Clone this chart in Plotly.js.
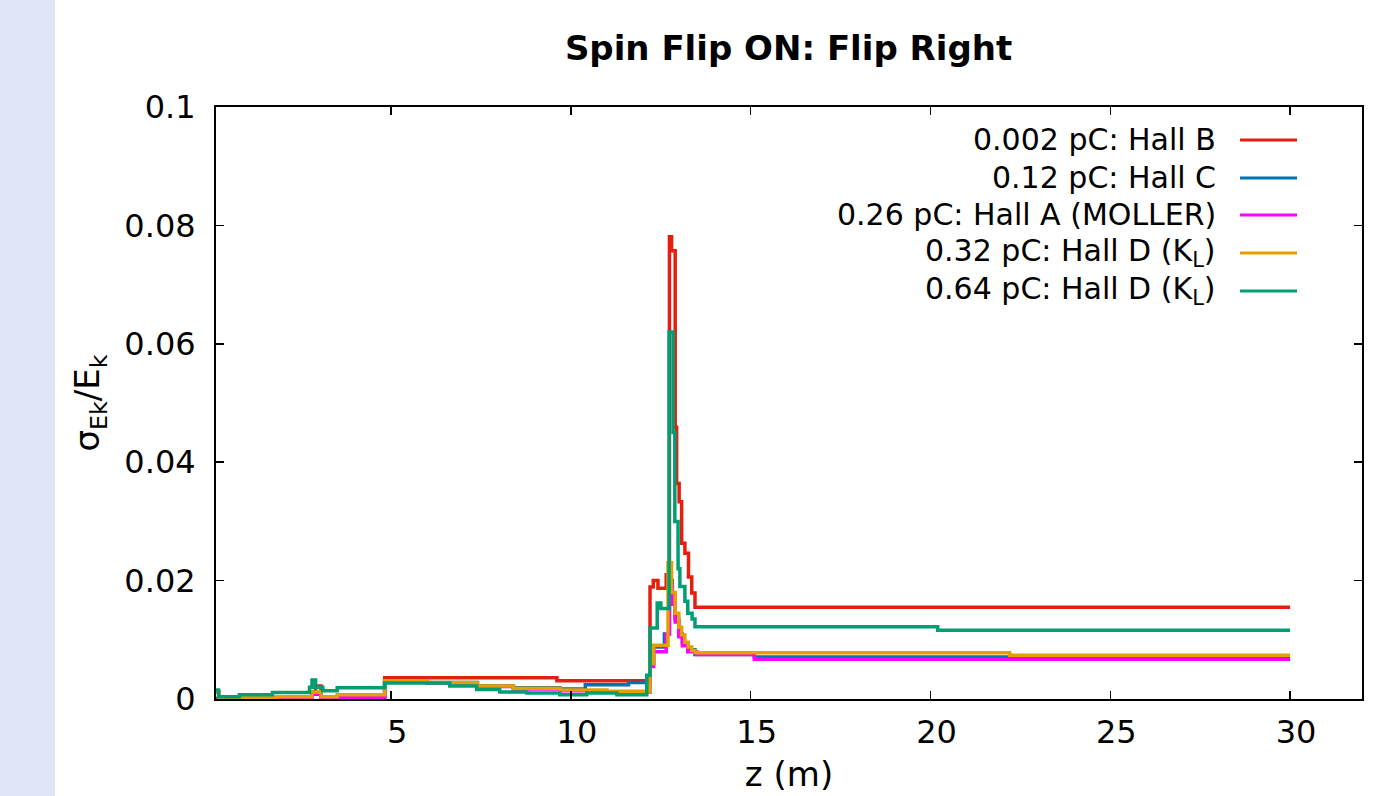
<!DOCTYPE html>
<html>
<head>
<meta charset="utf-8">
<script src="https://cdn.plot.ly/plotly-3.0.1.min.js"></script>
<style>
  html, body { margin: 0; padding: 0; }
  body { width: 1375px; height: 796px; background: linear-gradient(to right, #e0e6f5 0px, #e0e6f5 55px, #ffffff 55px); overflow: hidden; }
  #chart { width: 1375px; height: 796px; }
</style>
</head>
<body>
<div id="chart"></div>
<script>
// ---- data (z in m, sigma_Ek/E_k) ----
const seriesNames = [
  "0.002 pC: Hall B",
  "0.12 pC: Hall C",
  "0.26 pC: Hall A (MOLLER)",
  "0.32 pC: Hall D (K<sub>L</sub>)",
  "0.64 pC: Hall D (K<sub>L</sub>)"
];
const seriesColors = ["#e51e10", "#0072b2", "#ff00ff", "#e69f00", "#009e73"];

const zHallB = [0.13, 2.80, 2.90, 3.05, 4.82, 9.61, 12.20, 12.29, 12.42, 12.65, 12.74, 12.80, 12.90, 12.94, 13.01, 13.08, 13.17, 13.27, 13.36, 13.45, 30.0];
const sHallB = [0.0001, 0.0012, 0.0022, 0.0001, 0.0036, 0.0031, 0.0189, 0.0200, 0.0187, 0.0210, 0.0781, 0.0757, 0.0459, 0.0364, 0.0333, 0.0263, 0.0246, 0.0206, 0.0179, 0.0155, 0.0155];

const zHallC = [0.13, 0.22, 1.00, 2.00, 2.80, 3.05, 4.82, 6.00, 7.40, 8.40, 9.70, 10.40, 11.60, 12.20, 12.30, 12.60, 12.74, 12.82, 12.90, 13.00, 13.10, 13.25, 13.45, 15.10, 30.0];
const sHallC = [0.0012, 0.0002, 0.0002, 0.0004, 0.0008, 0.0003, 0.0031, 0.0028, 0.0022, 0.0019, 0.0017, 0.0024, 0.0028, 0.0060, 0.0088, 0.0110, 0.0200, 0.0175, 0.0135, 0.0110, 0.0095, 0.0083, 0.0075, 0.0071, 0.0071];

const zHallA = [0.13, 0.22, 1.80, 2.80, 3.05, 4.82, 6.00, 7.40, 8.40, 9.70, 11.00, 12.20, 12.30, 12.65, 12.74, 12.82, 12.90, 13.00, 13.10, 13.25, 13.50, 15.10, 30.0];
const sHallA = [0.0012, 0.0001, 0.0001, 0.0009, 0.0002, 0.0030, 0.0027, 0.0021, 0.0017, 0.0014, 0.0012, 0.0055, 0.0080, 0.0110, 0.0190, 0.0160, 0.0130, 0.0105, 0.0090, 0.0080, 0.0075, 0.0067, 0.0067];

const zHallD1 = [0.13, 0.22, 1.80, 2.80, 3.05, 3.50, 4.82, 6.00, 7.40, 8.40, 9.70, 11.00, 12.20, 12.30, 12.45, 12.70, 12.80, 12.90, 13.00, 13.08, 13.17, 13.26, 13.36, 13.45, 13.50, 22.20, 30.0];
const sHallD1 = [0.0012, 0.0002, 0.0004, 0.0012, 0.0004, 0.0007, 0.0031, 0.0028, 0.0022, 0.0018, 0.0015, 0.0013, 0.0060, 0.0091, 0.0091, 0.0230, 0.0180, 0.0145, 0.0121, 0.0108, 0.0096, 0.0088, 0.0082, 0.0079, 0.0078, 0.0074, 0.0074];

const zHallD2 = [0.13, 0.20, 0.78, 1.70, 2.73, 2.80, 2.90, 3.10, 3.50, 4.82, 6.63, 7.38, 8.02, 8.77, 9.69, 10.44, 11.28, 12.11, 12.20, 12.40, 12.50, 12.73, 12.84, 12.89, 12.98, 13.03, 13.17, 13.25, 13.37, 13.45, 20.20, 30.0];
const sHallD2 = [0.0015, 0.0004, 0.0007, 0.0011, 0.0020, 0.0032, 0.0020, 0.0014, 0.0019, 0.0027, 0.0022, 0.0016, 0.0012, 0.0010, 0.0007, 0.0010, 0.0007, 0.0040, 0.0120, 0.0162, 0.0153, 0.0620, 0.0450, 0.0300, 0.0220, 0.0190, 0.0165, 0.0145, 0.0135, 0.0122, 0.0116, 0.0116];

const xTickVals = [5, 10, 15, 20, 25, 30];
const yTickVals = [0, 0.02, 0.04, 0.06, 0.08, 0.1];
const yTickText = ["0", "0.02", "0.04", "0.06", "0.08", "0.1"];

// ---- build ----
const zs = [zHallB, zHallC, zHallA, zHallD1, zHallD2];
const ss = [sHallB, sHallC, sHallA, sHallD1, sHallD2];
const FONT = '"DejaVu Sans", Verdana, sans-serif';

const traces = zs.map((z, i) => ({
  x: z, y: ss[i], type: 'scatter', mode: 'lines',
  name: seriesNames[i],
  line: { color: seriesColors[i], width: 3.5, shape: 'hv' },
  showlegend: false
}));

// gnuplot-style key: right-aligned text, sample line to the right
const keyRowsY = [0.9443, 0.8801, 0.8176, 0.7534, 0.6892];
const annotations = seriesNames.map((n, i) => ({
  xref: 'paper', yref: 'paper', x: 0.8743, y: keyRowsY[i],
  xanchor: 'right', yanchor: 'middle', showarrow: false,
  text: n, font: { family: FONT, size: 30, color: '#000' }
}));
const shapes = seriesNames.map((n, i) => ({
  type: 'line', xref: 'paper', yref: 'paper',
  x0: 0.8935, x1: 0.9433, y0: keyRowsY[i], y1: keyRowsY[i],
  line: { color: seriesColors[i], width: 3 }
}));

const layout = {
  width: 1375, height: 796,
  paper_bgcolor: 'rgba(0,0,0,0)', plot_bgcolor: '#ffffff',
  margin: { l: 216, r: 13, t: 107, b: 97 },
  title: { text: '<b>Spin Flip ON: Flip Right</b>', x: 0.5735, xanchor: 'center', y: 0.94, yanchor: 'middle',
           font: { family: FONT, size: 34, color: '#000' } },
  xaxis: {
    range: [0.13, 32.0], tickvals: xTickVals, ticks: 'inside', ticklen: 8, tickwidth: 1.5, tickcolor: '#000',
    mirror: 'ticks', showline: true, linecolor: '#000', linewidth: 2, showgrid: false, zeroline: false,
    tickfont: { family: FONT, size: 32, color: '#000' }, ticklabelshift: 6, ticklabelstandoff: 4,
    title: { text: 'z (m)', font: { family: FONT, size: 34, color: '#000' }, standoff: 12 }
  },
  yaxis: {
    range: [0, 0.1], tickvals: yTickVals, ticktext: yTickText, ticks: 'inside', ticklen: 8, tickwidth: 1.5, tickcolor: '#000',
    mirror: 'ticks', showline: true, linecolor: '#000', linewidth: 2, showgrid: false, zeroline: false,
    tickfont: { family: FONT, size: 32, color: '#000' }, ticklabelstandoff: 12,
    title: { text: 'σ<sub>Ek</sub>/E<sub>k</sub>', font: { family: FONT, size: 34, color: '#000' }, standoff: 14 }
  },
  annotations: annotations,
  shapes: shapes,
  showlegend: false
};

Plotly.newPlot('chart', traces, layout, { displayModeBar: false, staticPlot: true });
</script>
</body>
</html>
